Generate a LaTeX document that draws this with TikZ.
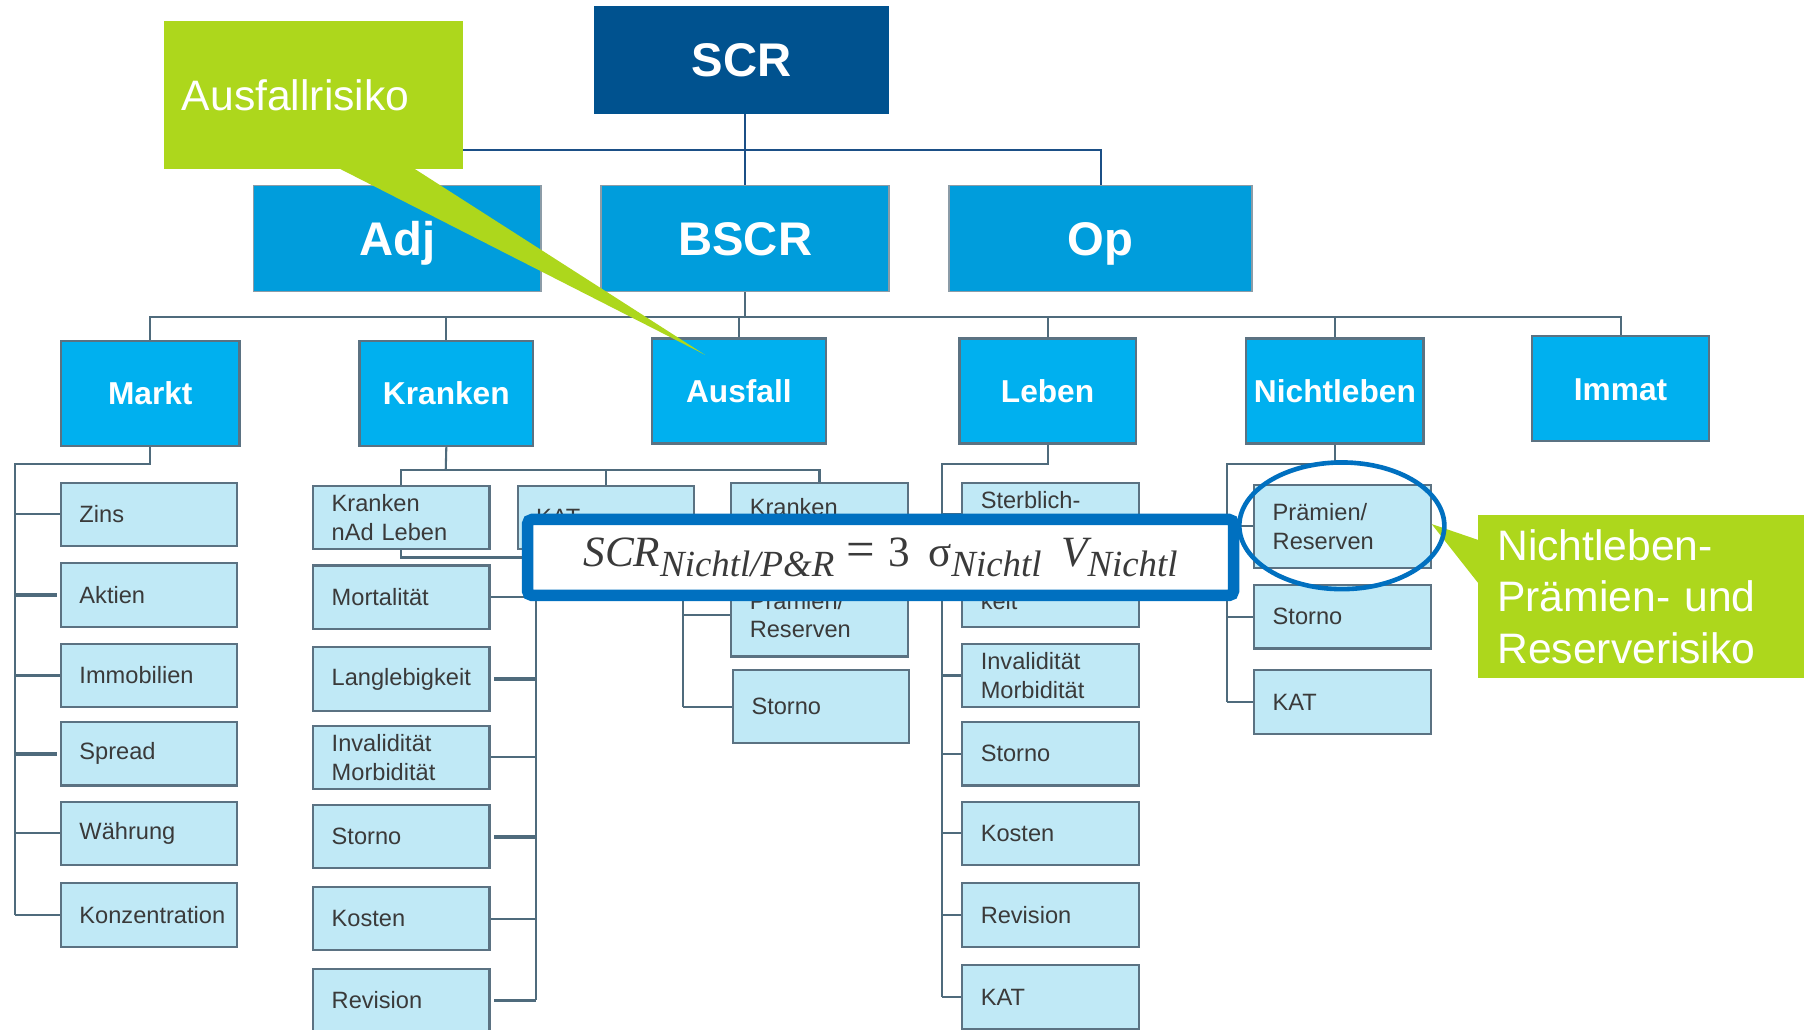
\documentclass[tikz,border=0pt]{standalone}
\usepackage{fontspec}
\setmainfont{Liberation Sans}
\newfontfamily\fserif{Liberation Serif}
\usetikzlibrary{calc,shapes.geometric}
\definecolor{cScr}{HTML}{00528F}
\definecolor{cTop}{HTML}{009DDC}
\definecolor{cMid}{HTML}{00B0EF}
\definecolor{cLight}{HTML}{C0E9F6}
\definecolor{cBorder}{HTML}{5B7282}
\definecolor{cConn}{HTML}{4F6B7C}
\definecolor{cTopConn}{HTML}{1B4F86}
\definecolor{cGreen}{HTML}{ADD71C}
\definecolor{cHl}{HTML}{0070C0}
\definecolor{cText}{HTML}{3A3A3A}
\newcommand\fsub[1]{\raisebox{-8pt}{\fontsize{32}{36}\selectfont\itshape #1}}
\begin{document}
\begin{tikzpicture}[x=1pt,y=-1pt,
  scrbox/.style={fill=cScr, text=white, font=\bfseries\fontsize{41}{48}\selectfont, minimum width=256pt, minimum height=94pt, inner sep=0pt, text height=29.5pt, text depth=0pt},
  topbox/.style={fill=cTop, draw=cBorder!70, line width=1.5pt, text=white, font=\bfseries\fontsize{41}{48}\selectfont, minimum width=250pt, minimum height=92pt, inner sep=0pt, text height=29.5pt, text depth=0pt},
  midbox/.style={fill=cMid, draw=cBorder, line width=2pt, text=white, font=\bfseries\fontsize{27.5}{33}\selectfont, minimum width=153pt, minimum height=91pt, inner sep=0pt, text height=19.8pt, text depth=0pt},
  lbox/.style={fill=cLight, draw=cBorder, line width=1.8pt, text=cText, font=\fontsize{20.5}{25}\selectfont, text width=121pt, inner xsep=16pt, inner ysep=0pt, minimum height=55pt, align=left},
  conn/.style={draw=cConn, line width=1.8pt},
  thickconn/.style={draw=cConn, line width=3pt, shorten >=3pt},
  topconn/.style={draw=cTopConn, line width=1.8pt},
  callbox/.style={fill=cGreen, text=white, font=\fontsize{37}{44.5}\selectfont, align=left, inner ysep=0pt},
  fbox/.style={draw=cHl, fill=white, line width=10pt, rounded corners=4pt, minimum width=613pt, minimum height=66pt, text=cText, inner sep=0pt},
  ring/.style={draw=cHl, line width=4pt, ellipse, inner sep=0pt}
]
\useasboundingbox (0,0) rectangle (1568,894);
\clip (0,0) rectangle (1568,894);
\fill[white] (0,0) rectangle (1568,894);

% ---------- top levels
\node[scrbox] (scr) at (644,52) {SCR};
\node[topbox] (adj) at (345,207) {Adj};
\node[topbox] (bscr) at (647,207) {BSCR};
\node[topbox, minimum width=263pt] (op) at (955.5,207) {Op};

% ---------- modules
\node[midbox, minimum width=155pt] (markt) at (130.5,341.5) {Markt};
\node[midbox, minimum width=151pt] (kranken) at (387.5,341.5) {Kranken};
\node[midbox, minimum width=151pt] (ausfall) at (641.5,339.5) {Ausfall};
\node[midbox] (leben) at (909.5,339.5) {Leben};
\node[midbox, minimum width=154pt] (nichtleben) at (1159,339.5) {Nichtleben};
\node[midbox, minimum width=154pt] (immat) at (1407,337.5) {Immat};

% ---------- Markt children
\node[lbox] (zins)   at (129.5,446.5) {Zins};
\node[lbox] (aktien) at (129.5,516.5) {Aktien};
\node[lbox] (immo)   at (129.5,586.5) {Immobilien};
\node[lbox] (spread) at (129.5,654.5) {Spread};
\node[lbox] (waehr)  at (129.5,723.5) {Währung};
\node[lbox] (konz)   at (129.5,794.5) {Konzentration};

% ---------- Kranken children
\node[lbox] (knal)    at (348.5,449.5) {Kranken\\nAd Leben};
\node[lbox] (mort)    at (348.5,518.5) {Mortalität};
\node[lbox] (lang)    at (348.5,589.5) {Langlebigkeit};
\node[lbox] (inval)   at (348.5,657.5) {Invalidität\\Morbidität};
\node[lbox] (kstorno) at (348.5,726.5) {Storno};
\node[lbox] (kkosten) at (348.5,797.5) {Kosten};
\node[lbox] (krev)    at (348.5,868.5) {Revision};
\node[lbox] (kat2)    at (526,449.5) {KAT};
\node[lbox, minimum height=67pt] (kr3) at (711.5,452.5) {Kranken\\\mbox{}};
\node[lbox, minimum height=72pt] (prem3) at (711.5,534) {Prämien/\\Reserven};
\node[lbox, minimum height=63pt] (storno3) at (713,613.5) {Storno};

% ---------- Leben children
\node[lbox] (sterb) at (912,446.5) {Sterblich-\\\mbox{}};
\node[lbox] (langl) at (912,516.5) {\mbox{}\\keit};
\node[lbox] (linv)  at (912,586.5) {Invalidität\\Morbidität};
\node[lbox] (lsto)  at (912,654.5) {Storno};
\node[lbox] (lkos)  at (912,723.5) {Kosten};
\node[lbox] (lrev)  at (912,794.5) {Revision};
\node[lbox] (lkat)  at (912,865.5) {KAT};

% ---------- Nichtleben children
\node[lbox, minimum height=72pt] (np) at (1165.5,457) {Prämien/\\Reserven};
\node[lbox] (ns)   at (1165.5,535.5) {Storno};
\node[lbox] (nkat) at (1165.5,609.5) {KAT};

% ---------- connectors (top)
\coordinate (adjtap) at (344,130);
\draw[topconn] (scr.south -| bscr.north) -- (bscr.north);
\draw[topconn] (adjtap) -| (op.north);

% ---------- connectors (modules)
\coordinate (bus) at (647,275);
\draw[conn] (bscr.south) -- (bus);
\draw[conn] (markt.north) |- (bus) -| (immat.north);
\foreach \n in {kranken,ausfall,leben,nichtleben} \draw[conn] (\n.north) -- (\n.north |- bus);

% Markt
\coordinate (mtr) at (13,403);
\draw[conn] (markt.south) |- (mtr) -- (mtr |- konz.west);
\foreach \n in {zins,immo,waehr,konz} \draw[conn] (mtr |- \n.west) -- (\n.west);
\foreach \n in {aktien,spread} \draw[thickconn] (mtr |- \n.west) -- (\n.west);

% Kranken
\coordinate (kbus) at (387,408);
\draw[conn] (kranken.south) -- (kbus);
\draw[conn] (knal.north) |- (kbus) -| (kr3.north);
\draw[conn] (kat2.north) -- (kat2.north |- kbus);
\coordinate (ktr) at (465,484);
\draw[conn] (knal.south) |- (ktr) -- (ktr |- krev.east);
\foreach \n in {mort,inval,kkosten} \draw[conn] (ktr |- \n.east) -- (\n.east);
\foreach \n in {lang,kstorno,krev} \draw[thickconn] (ktr |- \n.east) -- (\n.east);
\coordinate (c3) at (593,492);
\draw[conn] (kr3.south) |- (c3) -- (c3 |- storno3.west);
\foreach \n in {prem3,storno3} \draw[conn] (c3 |- \n.west) -- (\n.west);

% Leben
\coordinate (ltr) at (818,403);
\draw[conn] (leben.south) |- (ltr) -- (ltr |- lkat.west);
\foreach \n in {sterb,langl,linv,lsto,lkos,lrev,lkat} \draw[conn] (ltr |- \n.west) -- (\n.west);

% Nichtleben
\coordinate (ntr) at (1065,403);
\draw[conn] (nichtleben.south) |- (ntr) -- (ntr |- nkat.west);
\foreach \n in {np,ns,nkat} \draw[conn] (ntr |- \n.west) -- (\n.west);

% ---------- callout Ausfallrisiko
\node[callbox, text width=228pt, inner xsep=16pt, minimum height=129pt] (c1) at (272,82.5) {Ausfallrisiko};
\coordinate (t1a) at (294,146);
\coordinate (t1b) at (359,146);
\coordinate (t1tip) at (612,308);
\fill[cGreen] (t1a) -- (t1b) -- (t1tip) -- cycle;

% ---------- formula
\node[fbox] (formula) at (764.5,484) {\fserif\fontsize{37.5}{40}\selectfont\itshape SCR\fsub{Nichtl/P\&R}\hspace{11pt}{\upshape\fontsize{44}{46}\selectfont=}\hspace{11pt}\upshape 3\hspace{16pt}σ\fsub{Nichtl}\hspace{17pt}\itshape V\fsub{Nichtl}};

% ---------- callout Nichtleben
\node[callbox, text width=249pt, inner xsep=17pt, minimum height=142pt] (c2) at (1424.5,518) {Nichtleben-\\Prämien- und\\Reserverisiko};
\coordinate (t2a) at (1284,469);
\coordinate (t2tip) at (1243,455);
\coordinate (t2b) at (1284,507);
\fill[cGreen] (t2a) -- (t2tip) -- (t2b) -- cycle;

% ---------- highlight ring
\node[ring, minimum width=178pt, minimum height=110pt] (hl) at (1165,456.5) {};
\end{tikzpicture}
\end{document}
